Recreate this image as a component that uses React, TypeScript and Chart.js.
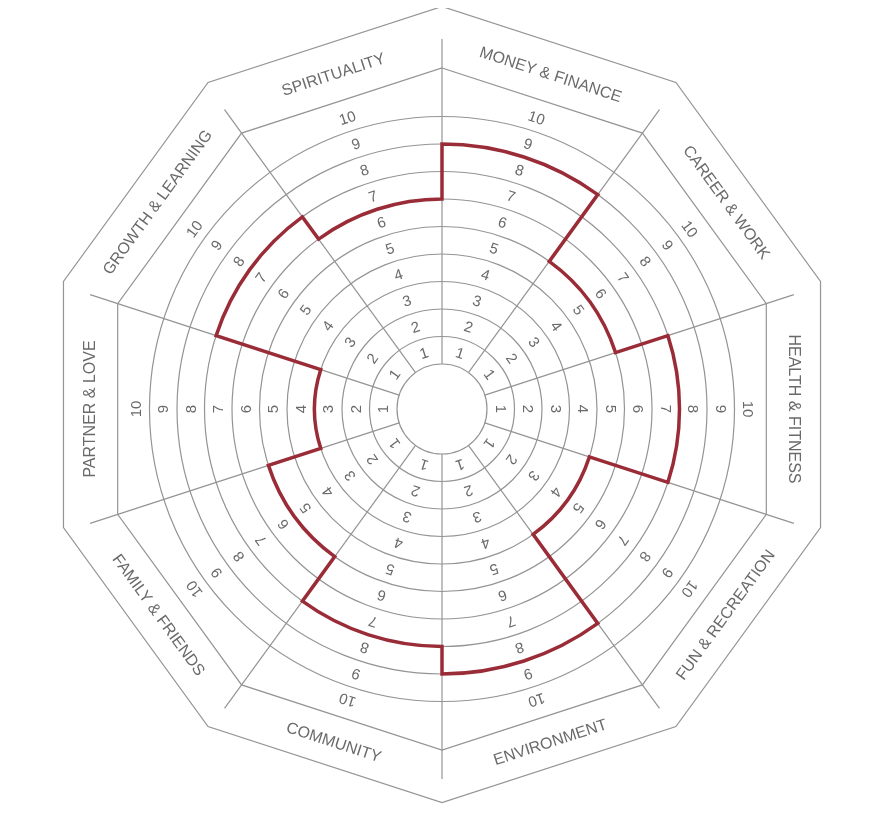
import React, { useEffect, useRef } from "react";
import { Chart, registerables } from "chart.js";

Chart.register(...registerables);

// ---- data ----
const CATEGORIES = [
  "MONEY & FINANCE",
  "CAREER & WORK",
  "HEALTH & FITNESS",
  "FUN & RECREATION",
  "ENVIRONMENT",
  "COMMUNITY",
  "FAMILY & FRIENDS",
  "PARTNER & LOVE",
  "GROWTH & LEARNING",
  "SPIRITUALITY",
];
const SCORES = [8, 5, 7, 4, 8, 7, 5, 3, 7, 6];
const RING_LABELS = ["1", "2", "3", "4", "5", "6", "7", "8", "9", "10"];
const GRID_VALUES = [0, 1, 2, 3, 4, 5, 6, 7, 8, 9];
const SCALE_MIN = -1.636;
const SCALE_MAX = 10;

// ---- layout constants (px) ----
const OUTER_R = 398;
const OUTER_DY = -4.5;
const INNER_R = 341;
const SPOKE_R = 370;
const CAT_R = 351;

const GRAY = "#949494";
const TEXT = "#6a6a6a";
const RED = "#9a2c38";

const wheelPlugin = {
  id: "wheel",
  beforeDatasetsDraw(chart: any) {
    const scale = chart.scales.r;
    const ctx = chart.ctx as CanvasRenderingContext2D;
    const cx = scale.xCenter;
    const cy = scale.yCenter;
    const n = CATEGORIES.length;
    const step = (2 * Math.PI) / n;
    const pt = (r: number, th: number, oy = 0) => [cx + r * Math.sin(th), cy + oy - r * Math.cos(th)];

    ctx.save();
    ctx.strokeStyle = GRAY;
    ctx.lineWidth = 1.2;

    const poly = (R: number, oy: number) => {
      ctx.beginPath();
      for (let i = 0; i < n; i++) {
        const [x, y] = pt(R, i * step, oy);
        if (i === 0) ctx.moveTo(x, y);
        else ctx.lineTo(x, y);
      }
      ctx.closePath();
      ctx.stroke();
    };
    poly(OUTER_R, OUTER_DY);
    poly(INNER_R, 0);

    const r0 = scale.getDistanceFromCenterForValue(0);
    for (let i = 0; i < n; i++) {
      const [x1, y1] = pt(r0, i * step);
      const [x2, y2] = pt(SPOKE_R, i * step);
      ctx.beginPath();
      ctx.moveTo(x1, y1);
      ctx.lineTo(x2, y2);
      ctx.stroke();
    }

    ctx.fillStyle = TEXT;
    ctx.textAlign = "center";
    ctx.textBaseline = "middle";

    // ring numbers
    ctx.font = '15px "Liberation Sans", Arial, sans-serif';
    for (let i = 0; i < n; i++) {
      const th = (i + 0.5) * step;
      RING_LABELS.forEach((lab, k) => {
        const r = scale.getDistanceFromCenterForValue(k + 0.5);
        const [x, y] = pt(r, th);
        ctx.save();
        ctx.translate(x, y);
        ctx.rotate(th);
        ctx.fillText(lab, 0, 1);
        ctx.restore();
      });
    }

    // category labels
    ctx.font = '16px "Liberation Sans", Arial, sans-serif';
    CATEGORIES.forEach((lab, i) => {
      const th = (i + 0.5) * step;
      const [x, y] = pt(CAT_R, th);
      const rot = Math.cos(th) < -0.01 ? th - Math.PI : th;
      ctx.save();
      ctx.translate(x, y);
      ctx.rotate(rot);
      ctx.fillText(lab, 0, 0);
      ctx.restore();
    });
    ctx.restore();
  },
  afterDatasetsDraw(chart: any) {
    const ctx = chart.ctx as CanvasRenderingContext2D;
    const meta = chart.getDatasetMeta(0);
    ctx.save();
    ctx.beginPath();
    meta.data.forEach((arc: any) => {
      const p = arc.getProps(["x", "y", "outerRadius", "startAngle", "endAngle"], true);
      ctx.arc(p.x, p.y, p.outerRadius, p.startAngle, p.endAngle);
    });
    ctx.closePath();
    ctx.strokeStyle = RED;
    ctx.lineWidth = 3.5;
    ctx.lineJoin = "miter";
    ctx.stroke();
    ctx.restore();
  },
};

export default function App() {
  const ref = useRef<HTMLCanvasElement>(null);

  useEffect(() => {
    if (!ref.current) return;
    const chart = new Chart(ref.current, {
      type: "polarArea",
      data: {
        labels: CATEGORIES,
        datasets: [
          {
            data: SCORES,
            backgroundColor: "rgba(0,0,0,0)",
            borderColor: "rgba(0,0,0,0)",
            borderWidth: 0,
          },
        ],
      },
      options: {
        responsive: false,
        animation: false,
        devicePixelRatio: 1,
        layout: { padding: { left: 114, right: 114, top: 81, bottom: 91 } },
        plugins: {
          legend: { display: false },
          tooltip: { enabled: false },
          colors: { enabled: false },
        },
        scales: {
          r: {
            min: SCALE_MIN,
            max: SCALE_MAX,
            startAngle: 0,
            ticks: { display: false },
            pointLabels: { display: false },
            angleLines: { display: false },
            grid: { circular: true, color: GRAY, lineWidth: 1.2 },
            afterBuildTicks: (scale: any) => {
              scale.ticks = [SCALE_MIN, ...GRID_VALUES].map((v) => ({ value: v }));
            },
          },
        },
      },
      plugins: [wheelPlugin],
    });
    return () => chart.destroy();
  }, []);

  return (
    <div>
      <canvas ref={ref} width={868} height={812} style={{ display: "block" }} />
    </div>
  );
}
